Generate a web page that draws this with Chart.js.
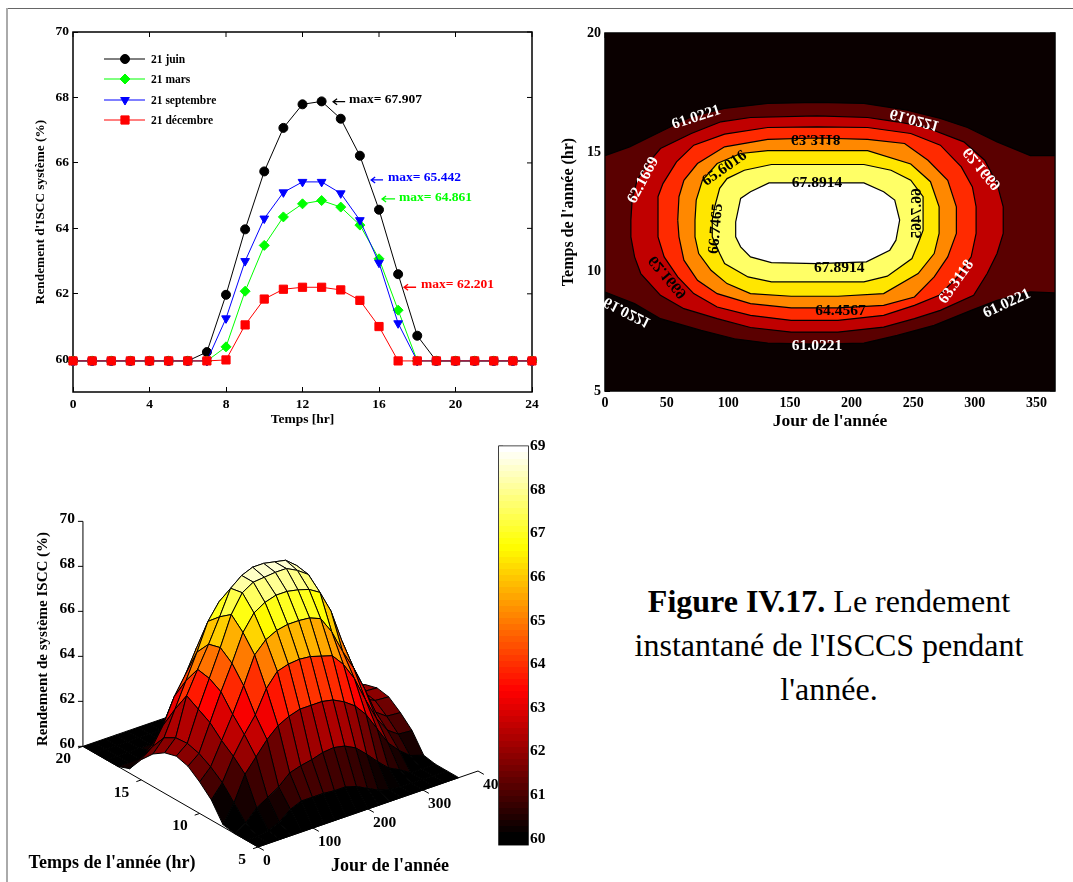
<!DOCTYPE html>
<html>
<head>
<meta charset="utf-8">
<title>Figure IV.17</title>
<script src="https://cdn.jsdelivr.net/npm/chart.js@4/dist/chart.umd.js"></script>
<style>
  html, body { margin: 0; padding: 0; background: #fff; overflow: hidden; }
  #page { position: relative; width: 1073px; height: 882px; }
  #page canvas { position: absolute; }
  #lineTop { position: absolute; left: 6px; top: 8px; right: 0; height: 1px; background: #666; }
  #lineLeft { position: absolute; left: 6px; top: 8px; bottom: 0; width: 2px; background: #aaa; }
  #caption { position: absolute; left: 600px; top: 579px; width: 458px; text-align: center;
    font: 32px/44px "Liberation Serif", serif; color: #000; }
</style>
</head>
<body>
<div id="page">
  <div id="lineTop"></div><div id="lineLeft"></div>
  <canvas id="lineChart" width="530" height="420" style="left:20px;top:10px"></canvas>
  <canvas id="contourChart" width="523" height="430" style="left:550px;top:10px"></canvas>
  <canvas id="surfaceChart" width="499" height="382" style="left:0;top:500px"></canvas>
  <canvas id="barChart" width="60" height="429" style="left:490px;top:431px"></canvas>
  <div id="caption"><b>Figure IV.17.</b> Le rendement<br>instantané de l'ISCCS pendant<br>l'année.</div>
</div>
<script>
const serif = "'Liberation Serif', serif"

// ---- 2D curves
const hours = [0,1,2,3,4,5,6,7,8,9,10,11,12,13,14,15,16,17,18,19,20,21,22,23,24]
const juin = [59.95,59.95,59.95,59.95,59.95,59.95,59.95,60.22,61.97,63.97,65.74,67.07,67.79,67.88,67.35,66.22,64.57,62.6,60.72,59.95,59.95,59.95,59.95,59.95,59.95]
const mars = [59.95,59.95,59.95,59.95,59.95,59.95,59.95,59.95,60.38,62.08,63.48,64.35,64.75,64.85,64.65,64.1,63.07,61.5,59.95,59.95,59.95,59.95,59.95,59.95,59.95]
const septembre = [59.95,59.95,59.95,59.95,59.95,59.95,59.95,59.95,61.25,63.0,64.3,65.1,65.42,65.42,65.07,64.25,62.95,61.1,59.95,59.95,59.95,59.95,59.95,59.95,59.95]
const decembre = [59.95,59.95,59.95,59.95,59.95,59.95,59.95,59.95,59.98,61.05,61.84,62.14,62.2,62.2,62.12,61.8,61.0,59.95,59.95,59.95,59.95,59.95,59.95,59.95,59.95]
const lineXTicks = [0,4,8,12,16,20,24]
const lineYTicks = [60,62,64,66,68,70]
const maxNotes = [
  {text: 'max= 67.907', color: '#000', x: 14.43, y: 67.95, arrowFrom: 14.23, arrowTo: 13.6, arrowY: 67.87},
  {text: 'max= 65.442', color: '#0000ff', x: 16.47, y: 65.55, arrowFrom: 16.21, arrowTo: 15.59, arrowY: 65.48},
  {text: 'max= 64.861', color: '#00ff00', x: 17.05, y: 64.95, arrowFrom: 16.84, arrowTo: 16.16, arrowY: 64.9},
  {text: 'max= 62.201', color: '#ff0000', x: 18.2, y: 62.28, arrowFrom: 17.94, arrowTo: 17.31, arrowY: 62.2}
]

// ---- contour outlines, [day, hour]
const contourDayTicks = [0,50,100,150,200,250,300,350]
const contourHourTicks = [5,10,15,20]
const levelBase = [[0,5],[365,5],[365,20],[0,20],[0,5]]
const level61 = [[0,14.86],[20,15.23],[45,15.86],[70,16.49],[97,16.84],[132,17.05],[172,17.09],[210,17.05],[245,16.77],[272,16.42],[294,16.04],[318,15.44],[345,14.86],[365,14.86],[365,9.11],[345,9.15],[318,8.8],[297,8.38],[267,7.75],[237,7.33],[210,7.01],[172,6.96],[132,7.01],[105,7.19],[78,7.54],[45,8.03],[24,8.66],[0,9.15],[0,14.86]]
const level62 = [[21,12.16],[22,13],[26,13.83],[37,14.67],[45,15.16],[70,15.79],[94,16.28],[118,16.46],[172,16.53],[213,16.46],[237,16.28],[259,16.07],[291,15.44],[308,14.67],[318,13.69],[323,12.72],[323,11.6],[318,10.76],[310,9.92],[299,9.01],[272,8.38],[251,8.03],[226,7.68],[189,7.47],[151,7.47],[118,7.66],[91,8.03],[64,8.45],[45,9.01],[29,9.92],[24,10.62],[21,11.46],[21,12.16]]
const level63 = [[43,12.16],[43,13.14],[47,13.69],[58,14.6],[72,15.3],[97,15.76],[132,16.04],[172,16.07],[213,16.04],[248,15.79],[272,15.3],[289,14.39],[298,13.55],[301,12.72],[301,11.6],[297,10.62],[286,9.78],[271,9.01],[251,8.59],[226,8.17],[189,7.96],[151,7.96],[118,8.17],[91,8.52],[72,9.08],[59,9.78],[48,10.62],[43,11.46],[43,12.16]]
const level64 = [[59,12.16],[60,13.14],[64,13.83],[75,14.53],[97,15.23],[132,15.54],[172,15.6],[213,15.54],[243,15.37],[262,14.67],[278,13.83],[285,12.72],[285,11.6],[278,10.62],[267,9.78],[251,8.94],[226,8.59],[189,8.48],[151,8.48],[118,8.66],[91,9.08],[75,9.64],[64,10.48],[60,11.46],[59,12.16]]
const level65 = [[73,12.16],[74,13],[79,13.83],[91,14.53],[110,14.95],[132,15.07],[172,15.07],[213,15.07],[248,14.51],[264,13.77],[271,12.72],[271,11.6],[267,10.76],[254,9.92],[226,9.08],[189,8.97],[151,8.97],[118,9.08],[99,9.5],[86,10.06],[76,10.76],[73,11.46],[73,12.16]]
const level66 = [[87,12.16],[89,12.72],[93,13.49],[99,13.9],[113,14.25],[135,14.49],[172,14.49],[210,14.49],[232,14.25],[248,13.83],[258,13.14],[258,11.74],[255,11.32],[249,10.55],[229,9.81],[210,9.57],[172,9.57],[135,9.57],[116,9.78],[97,10.34],[93,10.76],[87,11.46],[87,12.16]]
const level67 = [[106,12.09],[110,13.07],[118,13.35],[133,13.72],[172,13.72],[210,13.72],[226,13.35],[235,13],[239,12.16],[236,11.32],[231,10.9],[212,10.41],[172,10.34],[135,10.38],[118,10.62],[110,11.04],[106,11.46],[106,12.09]]
const contourLevels = [level67, level66, level65, level64, level63, level62, level61, levelBase]
const contourColors = ['#ffffff','#ffff66','#ffe600','#ff8800','#ff2a00','#c00000','#5a0000','#0a0000']
const contourNotes = [
  {text: '61.0221', day: 74, hour: 16.46, angle: -18, color: '#fff'},
  {text: '61.0221', day: 251, hour: 16.38, angle: 15, color: '#fff', flip: true},
  {text: '62.1669', day: 306, hour: 14.32, angle: 50, color: '#fff', flip: true},
  {text: '62.1669', day: 31, hour: 13.83, angle: -62, color: '#fff'},
  {text: '63.3118', day: 171, hour: 15.54, angle: 0, color: '#000', flip: true},
  {text: '65.6016', day: 97, hour: 14.32, angle: -35, color: '#000'},
  {text: '67.8914', day: 172, hour: 13.7, angle: 0, color: '#000'},
  {text: '66.7465', day: 90, hour: 11.8, angle: -85, color: '#000'},
  {text: '66.7465', day: 253, hour: 12.44, angle: 90, color: '#000', flip: true},
  {text: '62.1669', day: 51, hour: 9.78, angle: 50, color: '#000', flip: true},
  {text: '67.8914', day: 190, hour: 10.17, angle: 0, color: '#000'},
  {text: '64.4567', day: 191, hour: 8.35, angle: 0, color: '#000'},
  {text: '63.3118', day: 285, hour: 9.57, angle: -55, color: '#fff'},
  {text: '61.0221', day: 326, hour: 8.66, angle: -25, color: '#fff'},
  {text: '61.0221', day: 18, hour: 8.31, angle: 27, color: '#fff', flip: true},
  {text: '61.0221', day: 172, hour: 6.87, angle: 0, color: '#fff'}
]

// ---- surface, one row per hour 5..20, one column per day
const surfaceDays = [0,20,40,60,80,100,120,140,160,180,200,220,240,260,280,300,320,340,365]
const surfaceHours = [5,6,7,8,9,10,11,12,13,14,15,16,17,18,19,20]
const surfaceZ = [
  [60,60,60,60,60,60,60,60,60,60,60,60,60,60,60,60,60,60,60],
  [60,60,60.1,60.3,60.7,60.9,60.9,60.9,60.85,60.85,60.7,60.45,60.2,60.05,60,60,60,60,60],
  [60,60.3,60.8,61.1,61.4,61.85,62,62.1,62.25,62.3,62.2,61.95,61.5,61,60.55,60.3,60,60,60],
  [60.1,60.9,62,62.6,63.2,63.65,63.9,64.05,64.05,64.05,63.95,63.7,63.35,62.8,62,61.2,60.7,60.3,60.1],
  [60.9,61.5,62.5,63.3,64,65,65.6,65.75,65.8,65.75,65.6,65.45,64.9,64.1,63,62,61.3,60.95,60.9],
  [61.4,61.9,62.9,63.9,65,66.2,66.7,66.95,67.05,67.05,67,66.8,66.05,65,64.1,63,61.8,61.45,61.4],
  [61.8,62.2,63.4,64.6,65.7,66.9,67.6,67.9,68.05,68.05,67.95,67.8,67.5,66.5,65,63.7,62.1,61.85,61.8],
  [61.95,62.35,63.7,64.9,66.1,67.4,68.2,68.5,68.55,68.6,68.6,68.35,68,67,65.2,63.9,62.2,61.95,61.9],
  [61.8,62.3,64,65,65.95,67,68.1,68.5,68.7,68.7,68.6,68.5,68.1,67,64.9,63.7,62.1,61.85,61.75],
  [61.45,62,63.1,64.2,65.3,66.5,67.2,67.5,67.6,67.55,67.5,67.1,66.6,65.5,64.2,63.1,61.75,61.5,61.45],
  [60.9,61.3,62.1,63.2,64,65,65.6,65.75,65.8,65.8,65.7,65.3,64.9,64,63.1,62.2,61.2,60.95,60.9],
  [60.2,60.5,60.9,61.6,62.4,63.2,63.6,63.5,63.6,63.6,63.5,63.3,62.9,62.3,61.7,61,60.4,60.2,60.2],
  [60,60,60,60.2,60.6,60.9,61.1,61.2,61.3,61.3,61.2,61.05,60.8,60.45,60.2,60,60,60,60],
  [60,60,60,60,60,60,60,60,60.05,60.15,60.2,60.1,60,60,60,60,60,60,60],
  [60,60,60,60,60,60,60,60,60,60,60,60,60,60,60,60,60,60,60],
  [60,60,60,60,60,60,60,60,60,60,60,60,60,60,60,60,60,60,60]
]
const surfaceZTicks = [60,62,64,66,68,70]
const surfaceHourTicks = [20,15,10,5]
const surfaceDayTicks = [0,100,200,300,400]

// ---- colour bar
const barTicks = [60,61,62,63,64,65,66,67,68,69]
const barRange = [59.86, 69]

// matlab "hot", 60 to 69
function hotColor(z) {
  const t = Math.min(1, Math.max(0, (z - 60) / 9))
  const r = Math.min(1, t * 8 / 3)
  const g = Math.min(1, Math.max(0, (t - 3 / 8) * 8 / 3))
  const b = Math.min(1, Math.max(0, (t - 3 / 4) * 4))
  return `rgb(${Math.round(r * 255)},${Math.round(g * 255)},${Math.round(b * 255)})`
}

// page pixels of a point of the 3D box
function project(day, hour, z) {
  return {
    x: 258 + 0.55 * day - 11.67 * (hour - 5),
    y: 847 - 0.19 * day - 6.71 * (hour - 5) - 22.5 * (z - 60)
  }
}

function setTicks(values) {
  return (scale) => { scale.ticks = values.map((v) => ({value: v})) }
}

// box round the plot with the ticks repeated on top and right
const framePlugin = {
  id: 'framePlugin',
  beforeDatasetsDraw(chart) {
    const {ctx, chartArea: a, scales} = chart
    ctx.save()
    ctx.strokeStyle = '#000'
    ctx.lineWidth = 1.5
    ctx.strokeRect(a.left, a.top, a.right - a.left, a.bottom - a.top)
    ctx.lineWidth = 1
    ctx.beginPath()
    if (scales.x.options.display) {
      scales.x.ticks.forEach((t) => {
        const x = scales.x.getPixelForValue(t.value)
        ctx.moveTo(x, a.top); ctx.lineTo(x, a.top + 5)
      })
    }
    scales.y.ticks.forEach((t) => {
      const y = scales.y.getPixelForValue(t.value)
      if (scales.y.position === 'right') { ctx.moveTo(a.left, y); ctx.lineTo(a.left + 4, y) }
      else { ctx.moveTo(a.right, y); ctx.lineTo(a.right - 5, y) }
    })
    ctx.stroke()
    ctx.restore()
  }
}

const legendRows = [
  {text: '21 juin', dataset: 0, rowY: 49},
  {text: '21 mars', dataset: 1, rowY: 69},
  {text: '21 septembre', dataset: 2, rowY: 90},
  {text: '21 décembre', dataset: 3, rowY: 110}
]

const lineNotesPlugin = {
  id: 'lineNotes',
  afterDatasetsDraw(chart) {
    const {ctx, scales: {x, y}} = chart
    ctx.save()
    ctx.font = `bold 13.5px ${serif}`
    ctx.textBaseline = 'middle'
    maxNotes.forEach((n) => {
      ctx.fillStyle = n.color
      ctx.strokeStyle = n.color
      ctx.lineWidth = 1.3
      ctx.fillText(n.text, x.getPixelForValue(n.x), y.getPixelForValue(n.y))
      const x0 = x.getPixelForValue(n.arrowFrom)
      const x1 = x.getPixelForValue(n.arrowTo)
      const ya = y.getPixelForValue(n.arrowY)
      ctx.beginPath()
      ctx.moveTo(x0, ya); ctx.lineTo(x1, ya)
      ctx.moveTo(x1 + 4, ya - 3); ctx.lineTo(x1, ya); ctx.lineTo(x1 + 4, ya + 3)
      ctx.stroke()
    })
    ctx.font = `bold 11.5px ${serif}`
    legendRows.forEach((row) => {
      const ds = chart.data.datasets[row.dataset]
      ctx.strokeStyle = ds.borderColor
      ctx.lineWidth = 1
      ctx.beginPath()
      ctx.moveTo(84, row.rowY); ctx.lineTo(125, row.rowY)
      ctx.stroke()
      ctx.fillStyle = ds.pointBackgroundColor
      Chart.helpers.drawPoint(ctx, {pointStyle: ds.pointStyle, rotation: ds.pointRotation || 0, radius: ds.pointRadius, borderWidth: 1}, 105, row.rowY)
      ctx.fillStyle = '#000'
      ctx.fillText(row.text, 131, row.rowY + 1)
    })
    ctx.restore()
  }
}

function curve(values, color, style, radius, rotation, order) {
  return {
    data: values.map((v, i) => ({x: hours[i], y: v})),
    borderColor: color, borderWidth: 1,
    pointStyle: style, pointRadius: radius, pointRotation: rotation,
    pointBackgroundColor: color, pointBorderColor: color,
    clip: false, order: order, tension: 0
  }
}

new Chart(document.getElementById('lineChart'), {
  type: 'line',
  data: {
    datasets: [
      curve(juin, '#000000', 'circle', 4.5, 0, 4),
      curve(mars, '#00ff00', 'rectRot', 5, 0, 3),
      curve(septembre, '#0000ff', 'triangle', 5, 180, 2),
      curve(decembre, '#ff0000', 'rect', 5.8, 0, 1)
    ]
  },
  options: {
    responsive: false, animation: false,
    layout: {padding: {top: 22, right: 18}},
    plugins: {legend: {display: false}, tooltip: {enabled: false}},
    scales: {
      x: {
        type: 'linear', min: 0, max: 24,
        afterBuildTicks: setTicks(lineXTicks),
        afterFit: (s) => { s.height = 38 },
        grid: {drawOnChartArea: false, tickLength: -5, tickColor: '#000'},
        border: {display: false},
        ticks: {color: '#000', padding: 9, maxRotation: 0, font: {family: serif, weight: 'bold', size: 13.5}},
        title: {display: true, text: 'Temps [hr]', color: '#000', padding: {top: 0, bottom: 2}, font: {family: serif, weight: 'bold', size: 13.5}}
      },
      y: {
        min: 59, max: 70,
        afterBuildTicks: setTicks(lineYTicks),
        afterFit: (s) => { s.width = 53 },
        grid: {drawOnChartArea: false, tickLength: -5, tickColor: '#000'},
        border: {display: false},
        ticks: {color: '#000', padding: 9, font: {family: serif, weight: 'bold', size: 13.5}},
        title: {display: true, text: "Rendement d'ISCC système (%)", color: '#000', padding: {top: 13, bottom: 0}, font: {family: serif, weight: 'bold', size: 13.3}}
      }
    }
  },
  plugins: [framePlugin, lineNotesPlugin]
})

const contourNotesPlugin = {
  id: 'contourNotes',
  afterDatasetsDraw(chart) {
    const {ctx, scales: {x, y}} = chart
    contourNotes.forEach((n) => {
      ctx.save()
      ctx.translate(x.getPixelForValue(n.day), y.getPixelForValue(n.hour))
      ctx.rotate(n.angle * Math.PI / 180)
      if (n.flip) ctx.scale(1, -1)
      ctx.font = `bold 15.5px ${serif}`
      ctx.textAlign = 'center'
      ctx.textBaseline = 'middle'
      ctx.fillStyle = n.color
      ctx.fillText(n.text, 0, 0)
      ctx.restore()
    })
  }
}

new Chart(document.getElementById('contourChart'), {
  type: 'line',
  data: {
    datasets: contourLevels.map((level, i) => ({
      data: level.map((p) => ({x: p[0], y: p[1]})),
      fill: 'shape', tension: 0,
      backgroundColor: contourColors[i],
      borderColor: '#000', borderWidth: 1.2,
      pointRadius: 0
    }))
  },
  options: {
    responsive: false, animation: false,
    layout: {padding: {top: 23, right: 18}},
    plugins: {legend: {display: false}, tooltip: {enabled: false}},
    scales: {
      x: {
        type: 'linear', min: 0, max: 365,
        afterBuildTicks: setTicks(contourDayTicks),
        afterFit: (s) => { s.height = 49 },
        grid: {drawOnChartArea: false, tickLength: -5, tickColor: '#000'},
        border: {display: false},
        ticks: {color: '#000', padding: 9, maxRotation: 0, font: {family: serif, weight: 'bold', size: 14}},
        title: {display: true, text: "Jour de l'année", color: '#000', padding: {top: 0, bottom: 8}, font: {family: serif, weight: 'bold', size: 17.5}}
      },
      y: {
        min: 5, max: 20,
        afterBuildTicks: setTicks(contourHourTicks),
        afterFit: (s) => { s.width = 55 },
        grid: {drawOnChartArea: false, tickLength: -5, tickColor: '#000'},
        border: {display: false},
        ticks: {color: '#000', padding: 9, font: {family: serif, weight: 'bold', size: 14}},
        title: {display: true, text: "Temps de l'année (hr)", color: '#000', padding: {top: 9, bottom: 0}, font: {family: serif, weight: 'bold', size: 16}}
      }
    }
  },
  plugins: [contourNotesPlugin, framePlugin]
})

// nearest facet first: the library paints the first dataset last
function surfaceFacets() {
  const facets = []
  for (let h = 0; h < surfaceHours.length - 1; h++) {
    for (let d = 0; d < surfaceDays.length - 1; d++) {
      const corners = [[h, d], [h, d + 1], [h + 1, d + 1], [h + 1, d], [h, d]]
      facets.push({
        data: corners.map((c) => project(surfaceDays[c[1]], surfaceHours[c[0]], surfaceZ[c[0]][c[1]])),
        fill: 'shape', tension: 0,
        backgroundColor: hotColor(surfaceZ[h][d]),
        borderColor: '#000', borderWidth: 1,
        pointRadius: 0
      })
    }
  }
  return facets
}

function axisLine(points) {
  return {data: points, borderColor: '#000', borderWidth: 1, pointRadius: 0, tension: 0, fill: false}
}

function surfaceAxes() {
  const lines = [
    axisLine([project(0, 20, 60), project(0, 20, 70)]),
    axisLine([project(0, 20, 60), project(0, 5, 60)]),
    axisLine([project(0, 5, 60), project(400, 5, 60)])
  ]
  surfaceZTicks.forEach((z) => {
    const p = project(0, 20, z)
    lines.push(axisLine([p, {x: p.x - 5, y: p.y}]))
  })
  surfaceHourTicks.forEach((h) => lines.push(axisLine([project(0, h, 60), project(-9, h, 60)])))
  surfaceDayTicks.forEach((d) => lines.push(axisLine([project(d, 5, 60), project(d, 4.5, 60)])))
  return lines
}

const surfaceTextPlugin = {
  id: 'surfaceText',
  afterDatasetsDraw(chart) {
    const {ctx, scales: {x, y}} = chart
    ctx.save()
    ctx.fillStyle = '#000'
    ctx.font = `bold 15.5px ${serif}`
    ctx.textBaseline = 'middle'
    const px = (v) => x.getPixelForValue(v)
    const py = (v) => y.getPixelForValue(v)
    ctx.textAlign = 'right'
    surfaceZTicks.forEach((z) => {
      const p = project(0, 20, z)
      ctx.fillText(String(z), px(p.x - 8), py(p.y - 2))
    })
    surfaceHourTicks.forEach((h) => {
      const p = project(0, h, 60)
      ctx.fillText(String(h), px(p.x - 12), py(p.y + 13))
    })
    ctx.textAlign = 'left'
    surfaceDayTicks.forEach((d) => {
      const p = project(d, 5, 60)
      ctx.fillText(String(d), px(p.x + 5), py(p.y + 14))
    })
    ctx.font = `bold 18px ${serif}`
    ctx.textAlign = 'center'
    ctx.fillText("Temps de l'année (hr)", px(112), py(863))
    ctx.fillText("Jour de l'année", px(390), py(866))
    ctx.save()
    ctx.translate(px(43), py(639))
    ctx.rotate(-Math.PI / 2)
    ctx.font = `bold 15px ${serif}`
    ctx.fillText('Rendement de système ISCC (%)', 0, 0)
    ctx.restore()
    ctx.restore()
  }
}

new Chart(document.getElementById('surfaceChart'), {
  type: 'line',
  data: {datasets: surfaceFacets().concat(surfaceAxes())},
  options: {
    responsive: false, animation: false,
    plugins: {legend: {display: false}, tooltip: {enabled: false}},
    scales: {
      x: {type: 'linear', display: false, min: 0, max: 499},
      y: {type: 'linear', display: false, reverse: true, min: 500, max: 882}
    }
  },
  plugins: [surfaceTextPlugin]
})

new Chart(document.getElementById('barChart'), {
  type: 'bar',
  data: {
    labels: [''],
    datasets: [{
      data: [barRange],
      barPercentage: 1, categoryPercentage: 1,
      backgroundColor(c) {
        const {chart} = c
        if (!chart.chartArea) return '#000'
        const {scales: {y}, ctx} = chart
        const g = ctx.createLinearGradient(0, y.getPixelForValue(60), 0, y.getPixelForValue(69))
        for (let i = 0; i < 64; i++) {
          const col = hotColor(60 + 9 * i / 63)
          g.addColorStop(i / 64, col)
          g.addColorStop((i + 1) / 64, col)
        }
        return g
      }
    }]
  },
  options: {
    responsive: false, animation: false,
    layout: {autoPadding: false, padding: {top: 10, bottom: 10, left: 9}},
    plugins: {legend: {display: false}, tooltip: {enabled: false}},
    scales: {
      x: {display: false},
      y: {
        position: 'right', min: barRange[0], max: barRange[1],
        afterBuildTicks: setTicks(barTicks),
        afterFit: (s) => { s.width = 22 },
        grid: {drawOnChartArea: false, tickLength: -4, tickColor: '#000'},
        border: {display: false},
        ticks: {color: '#000', padding: 6, font: {family: serif, weight: 'bold', size: 15.5}}
      }
    }
  },
  plugins: [framePlugin]
})
</script>
</body>
</html>
